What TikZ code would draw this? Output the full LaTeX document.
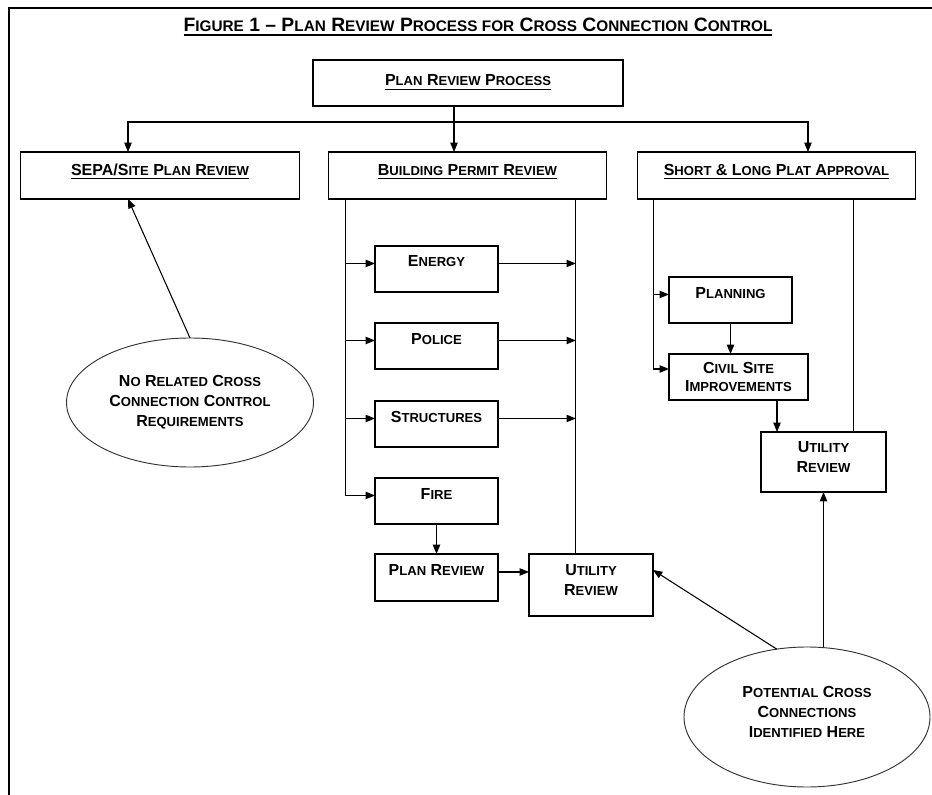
\documentclass[tikz,border=0pt]{standalone}
\usepackage{fontspec}
\setmainfont{Liberation Sans}
\usetikzlibrary{arrows.meta,shapes.geometric}

\def\smcsize{9.8pt}
\newcommand\smc[1]{{\fontsize{\smcsize}{10pt}\selectfont #1}}
\newcommand\hdrule[2][1.1pt]{\setbox0=\hbox{#2}\rlap{\rule[-3pt]{\wd0}{#1}}\box0}
\newcommand\padlow{\rule[-8pt]{0pt}{0pt}}

\begin{document}
\begin{tikzpicture}[x=0.75pt, y=-0.75pt,
    every node/.style={font=\bfseries\fontsize{12pt}{15pt}\selectfont},
    box/.style={draw, line width=0.8pt, inner sep=0pt, outer sep=0pt,
                minimum width=92.25pt, minimum height=34.5pt,
                text height=7pt, text depth=10pt},
    headbox/.style={box, minimum width=209pt, minimum height=35.25pt,
                    text height=8pt, text depth=8pt},
    twobox/.style={draw, line width=0.8pt, inner sep=0pt, outer sep=0pt,
                   align=center, minimum width=93pt, minimum height=46.5pt},
    oval/.style={draw=black!80, line width=0.7pt, ellipse, inner sep=0pt,
                 outer sep=0pt, align=center},
    link/.style={-{Triangle[length=7pt,width=5.5pt]}, line width=0.8pt}]

  \useasboundingbox (0,0) rectangle (932,795);
  \draw[line width=1.5pt] (9,795) -- (9,8) -- (932,8);

  \node[font=\bfseries\fontsize{14.5pt}{16pt}\selectfont] (title) at (478,27)
    {\def\smcsize{11.5pt}\hdrule[1.5pt]{F\smc{IGURE} 1 -- P\smc{LAN} R\smc{EVIEW} P\smc{ROCESS FOR} C\smc{ROSS} C\smc{ONNECTION} C\smc{ONTROL}}};

  \node[box, minimum width=232.5pt, text height=10pt, text depth=5.5pt] (proc) at (468,83)
    {\hdrule{P\smc{LAN} R\smc{EVIEW} P\smc{ROCESS}}};

  % three review branches
  \node[headbox] (sepa) at (160,175.5) {\hdrule{SEPA/S\smc{ITE} P\smc{LAN} R\smc{EVIEW}}};
  \node[headbox] (bldg) at (467.5,175.5) {\hdrule{B\smc{UILDING} P\smc{ERMIT} R\smc{EVIEW}}};
  \node[headbox] (plat) at (776.5,175.5) {\hdrule{S\smc{HORT} \& L\smc{ONG} P\smc{LAT} A\smc{PPROVAL}}};

  % building permit column
  \node[box] (energy) at (436.5,269) {E\smc{NERGY}};
  \node[box] (police) at (436.5,346) {P\smc{OLICE}};
  \node[box] (struct) at (436.5,424) {S\smc{TRUCTURES}};
  \node[box] (fire) at (436.5,501) {F\smc{IRE}};
  \node[box, minimum height=35.25pt] (planrev) at (436.5,577.5) {P\smc{LAN} R\smc{EVIEW}};
  \node[twobox] (utilb) at (591,585) {U\smc{TILITY}\\R\smc{EVIEW}\padlow};

  % plat column
  \node[box] (planning) at (730.5,300) {P\smc{LANNING}};
  \node[twobox, minimum width=104.25pt, minimum height=34.5pt] (civil) at (738.5,377)
    {C\smc{IVIL} S\smc{ITE}\\[-1.5pt]I\smc{MPROVEMENTS}};
  \node[twobox, minimum width=93.75pt, minimum height=45pt] (utilp) at (823.5,462)
    {U\smc{TILITY}\\R\smc{EVIEW}\padlow};

  % notes
  \node[oval, minimum width=185.25pt, minimum height=96.75pt] (noreq) at (190,402.5)
    {N\smc{O} R\smc{ELATED} C\smc{ROSS}\\C\smc{ONNECTION} C\smc{ONTROL}\\R\smc{EQUIREMENTS}};
  \node[oval, minimum width=184.5pt, minimum height=105pt] (potential) at (807,717)
    {P\smc{OTENTIAL} C\smc{ROSS}\\C\smc{ONNECTIONS}\\I\smc{DENTIFIED} H\smc{ERE}\padlow};

  % top split
  \coordinate (hub) at (454,122);
  \draw[line width=0.8pt] (proc.south -| hub) -- (hub);
  \draw[link] (hub) -| ([xshift=-24pt]sepa.north);
  \draw[link] (hub) -- (hub |- bldg.north);
  \draw[link] (hub) -| ([xshift=23.6pt]plat.north);

  \draw[link] (noreq.north) -- ([xshift=-24pt]sepa.south);

  % building permit lines
  \coordinate (bT) at ([xshift=12.75pt]bldg.south west);
  \coordinate (bR) at ([xshift=-23.25pt]bldg.south east);
  \draw[link] (bT) |- (fire.mid west);
  \foreach \n in {energy,police,struct} {
    \draw[link] (bT |- \n.mid west) -- (\n.mid west);
    \draw[link] (\n.mid east) -- (\n.mid east -| bR);
  }
  \draw[line width=0.8pt] (bR) -- (bR |- utilb.north);
  \draw[link] (fire) -- (planrev);
  \draw[link] (planrev.mid east) -- (planrev.mid east -| utilb.west);

  % plat lines
  \coordinate (pT) at ([xshift=12pt]plat.south west);
  \coordinate (pR) at ([xshift=-46.5pt]plat.south east);
  \coordinate (cu) at ([xshift=12pt]utilp.north west);
  \draw[link] (pT) |- ([yshift=6pt]civil.west);
  \draw[link] (pT |- planning.mid west) -- (planning.mid west);
  \draw[link] (planning) -- (planning.south |- civil.north);
  \draw[link] (cu |- civil.south) -- (cu);
  \draw[line width=0.8pt] (pR) -- (pR |- utilp.north);

  \draw[link] (potential.north -| utilp.south) -- (utilp.south);
  \draw[link] (potential.114) -- ([yshift=11.25pt]utilb.east);

\end{tikzpicture}
\end{document}
